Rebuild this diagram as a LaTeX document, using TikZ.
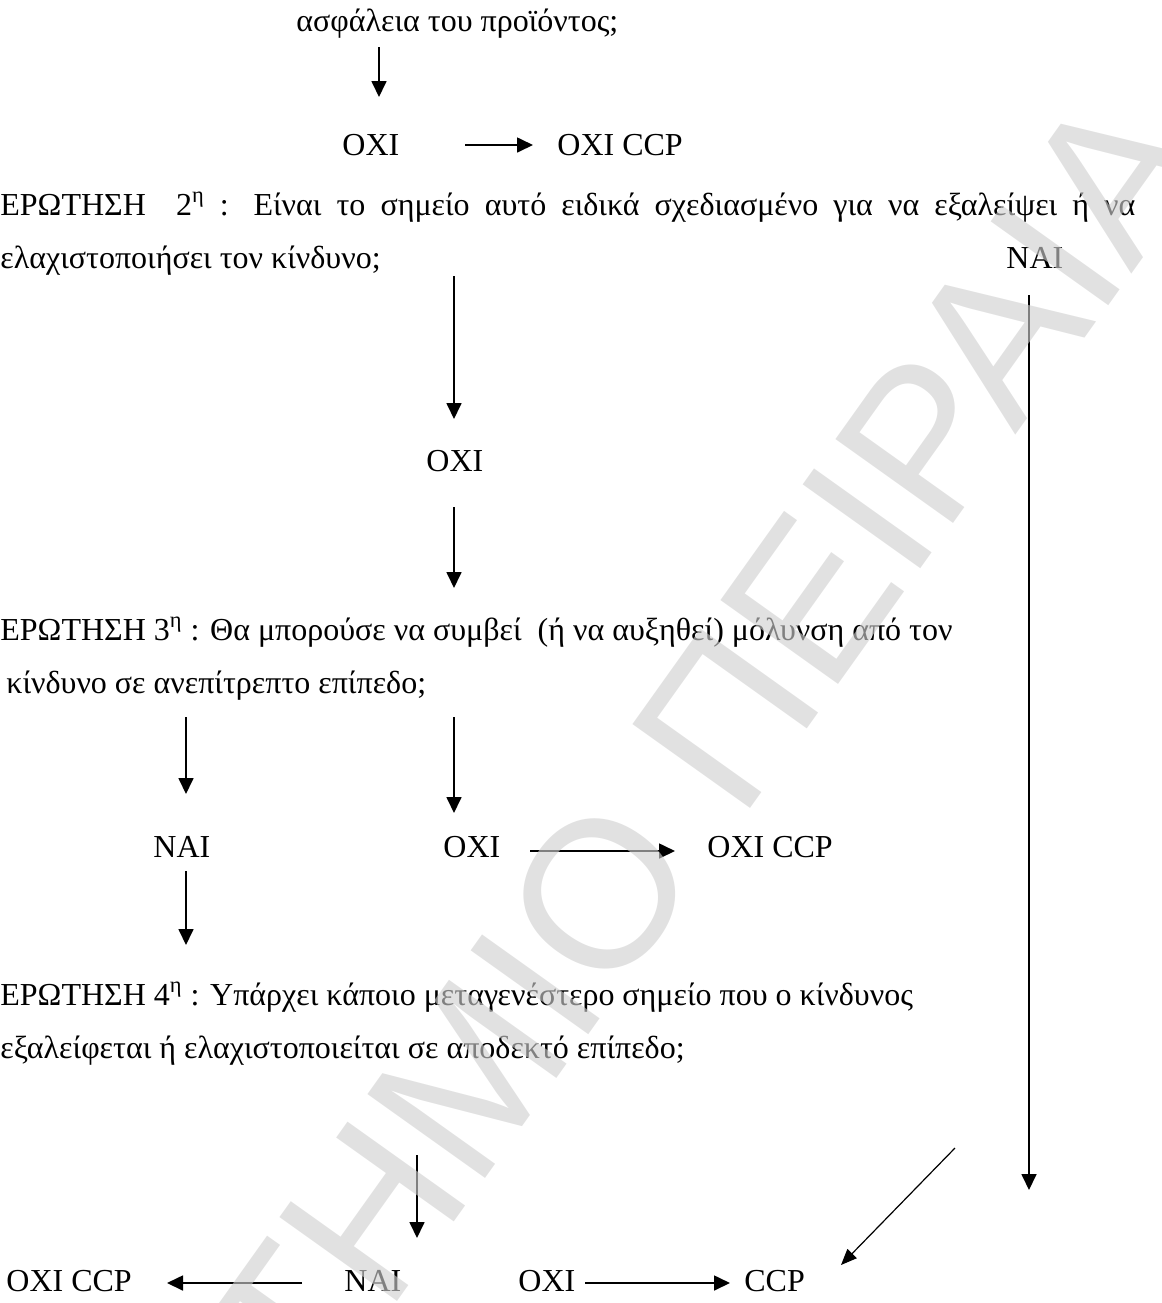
\documentclass[tikz,border=0pt]{standalone}
\usepackage{fontspec}
\setmainfont{Liberation Serif}
\newfontfamily\wmfont{Liberation Sans}
\usetikzlibrary{arrows.meta}

\begin{document}
\begin{tikzpicture}[
  x=0.5pt, y=-0.5pt,
  every node/.style={font=\fontsize{16}{19}\selectfont, inner sep=0pt, anchor=base west},
  arr/.style={-{Triangle[length=8pt,width=7.5pt]}, line width=0.85pt},
  thinarr/.style={-{Triangle[length=8pt,width=6.5pt]}, line width=0.6pt},
  wmark/.style={font=\wmfont\fontsize{105}{105}\selectfont, text=black!19,
                text opacity=0.62, rotate=54.5, anchor=center}
]
\useasboundingbox (0,0) rectangle (1162,1303);

% question 1 (end)
\node (prod) at (296,31) {ασφάλεια του προϊόντος;};
\node (no1) at (342,155) {ΟΧΙ};
\node (noccp1) at (557,155) {ΟΧΙ CCP};

% question 2
\node (q2a) at (0,215) {\makebox[567.5pt][s]{ΕΡΩΤΗΣΗ\ \ 2\textsuperscript{η} : Είναι το σημείο αυτό ειδικά σχεδιασμένο για να εξαλείψει ή να}};
\node (q2b) at (0,268) {ελαχιστοποιήσει τον κίνδυνο;};
\node (yes2) at (1006,268) {ΝΑΙ};
\node (no2) at (426,471) {ΟΧΙ};

% question 3
\node (q3a) at (0,640) {ΕΡΩΤΗΣΗ 3\textsuperscript{η} : Θα μπορούσε να συμβεί\ \ (ή να αυξηθεί) μόλυνση από τον};
\node (q3b) at (6,693) {κίνδυνο σε ανεπίτρεπτο επίπεδο;};
\node (yes3) at (153,857) {ΝΑΙ};
\node (no3) at (443,857) {ΟΧΙ};
\node (noccp3) at (707,857) {ΟΧΙ CCP};

% question 4
\node (q4a) at (0,1005) {ΕΡΩΤΗΣΗ 4\textsuperscript{η} : Υπάρχει κάποιο μεταγενέστερο σημείο που ο κίνδυνος};
\node (q4b) at (0,1058) {εξαλείφεται ή ελαχιστοποιείται σε αποδεκτό επίπεδο;};
\node (noccp4) at (6,1291) {ΟΧΙ CCP};
\node (yes4) at (344,1291) {ΝΑΙ};
\node (no4) at (518,1291) {ΟΧΙ};
\node (ccp) at (744,1291) {CCP};

% arrow ends
\coordinate (p1) at (379,47);   \coordinate (p2) at (379,97);
\coordinate (p3) at (465,145);  \coordinate (p4) at (533,145);
\coordinate (y2) at (1029,295); \coordinate (y2e) at (1029,1190);
\coordinate (p5) at (454,276);  \coordinate (p6) at (454,419);
\coordinate (p7) at (454,507);  \coordinate (p8) at (454,588);
\coordinate (p9) at (186,717);  \coordinate (p10) at (186,794);
\coordinate (p11) at (454,717); \coordinate (p12) at (454,813);
\coordinate (p13) at (530,851); \coordinate (p14) at (675,851);
\coordinate (p15) at (186,871); \coordinate (p16) at (186,945);
\coordinate (p17) at (417,1155); \coordinate (p18) at (417,1238);
\coordinate (p19) at (302,1283); \coordinate (p20) at (167,1283);
\coordinate (p21) at (585,1283); \coordinate (p22) at (730,1283);
\coordinate (d1) at (955,1148);  \coordinate (d2) at (841,1265);

\draw[arr] (p1) -- (p2);
\draw[arr] (p3) -- (p4);
\draw[arr] (y2) -- (y2e);
\draw[arr] (p5) -- (p6);
\draw[arr] (p7) -- (p8);
\draw[arr] (p9) -- (p10);
\draw[arr] (p11) -- (p12);
\draw[arr] (p13) -- (p14);
\draw[arr] (p15) -- (p16);
\draw[arr] (p17) -- (p18);
\draw[arr] (p19) -- (p20);
\draw[arr] (p21) -- (p22);
\draw[thinarr] (d1) -- (d2);

% watermark
\node[wmark] (wm) at (436,1124) {ΠΑΝΕΠΙΣΤΗΜΙΟ ΠΕΙΡΑΙΑ};
\end{tikzpicture}
\end{document}
